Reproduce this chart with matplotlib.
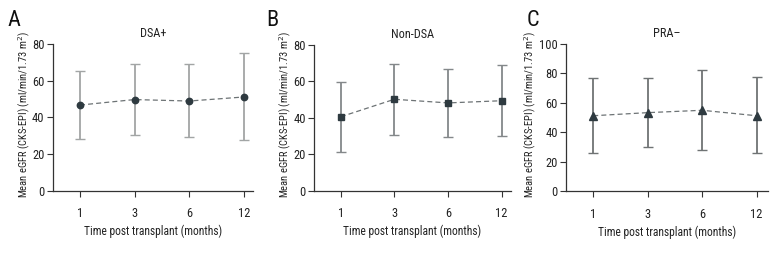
import matplotlib
matplotlib.use('Agg')
import matplotlib.pyplot as plt
from matplotlib import font_manager

# pick the narrowest sans we have
names = {f.name for f in font_manager.fontManager.ttflist}
fam = 'DejaVu Sans'
for cand in ['Roboto Condensed', 'Liberation Sans Narrow', 'Roboto', 'Liberation Sans']:
    if cand in names:
        fam = cand
        break
plt.rcParams['font.family'] = [fam, 'DejaVu Sans']

# Data
months = ['1', '3', '6', '12']

dsa_mean = [46.7, 49.7, 48.9, 51.1]
dsa_low = [28.4, 30.2, 29.3, 27.5]
dsa_high = [65.1, 69.0, 69.0, 74.9]

nondsa_mean = [40.6, 50.2, 48.2, 49.4]
nondsa_low = [21.1, 30.4, 29.5, 29.9]
nondsa_high = [59.9, 69.7, 66.7, 69.0]

pra_mean = [51.3, 53.4, 55.0, 51.3]
pra_low = [26.0, 29.9, 28.2, 26.0]
pra_high = [77.1, 77.1, 82.1, 77.4]

W, H = 780, 264
fig = plt.figure(figsize=(W / 100, H / 100), dpi=100)

panels = [
    # letter, title, mean, low, high, marker, ymax, ebar colour, axes box (px), letter x, ylabel offset
    ('A', 'DSA+', dsa_mean, dsa_low, dsa_high, 'o', 80, '#a2a5a5', (52.7, 44, 253, 190.7), 7, 21),
    ('B', 'Non-DSA', nondsa_mean, nondsa_low, nondsa_high, 's', 80, '#84888a', (314, 45, 510.7, 190.7), 266, 21),
    ('C', 'PRA\u2013', pra_mean, pra_low, pra_high, '^', 100, '#6f7374', (566, 44, 768, 191.3), 527, 28),
]

ylabel = 'Mean eGFR (CKS-EPI) (ml/min/1.73 m$^2$)'
mk_color = '#2e3a40'
txt = '#222222'

for letter, title, mean, low, high, mk, ymax, ecol, box, lx, yoff in panels:
    x0, y0, x1, y1 = box
    w, h = x1 - x0, y1 - y0
    ax = fig.add_axes([x0 / W, 1 - y1 / H, w / W, h / H])
    xs = range(len(months))
    yerr = [[m - l for m, l in zip(mean, low)], [h_ - m for m, h_ in zip(mean, high)]]
    ax.errorbar(xs, mean, yerr=yerr, fmt='none', ecolor=ecol, elinewidth=1.3,
                capsize=3.5, capthick=1.0, zorder=2)
    ax.plot(xs, mean, linestyle=(0, (4, 2.5)), color='#6d7375', linewidth=0.9, zorder=3)
    ax.plot(xs, mean, linestyle='none', marker=mk,
            markersize=5.2 if mk == '^' else 4.6, color=mk_color, zorder=4)
    ax.set_xlim(-0.5, 3.17 if letter != 'C' else 3.21)
    ax.set_ylim(0, ymax)
    ax.set_yticks(range(0, ymax + 1, 20))
    ax.set_xticks(list(xs))
    ax.set_xticklabels(months)
    for s in ('top', 'right'):
        ax.spines[s].set_visible(False)
    for s in ('left', 'bottom'):
        ax.spines[s].set_color('#333333')
        ax.spines[s].set_linewidth(0.9)
    ax.tick_params(direction='out', length=4, width=0.8, color='#333333',
                   labelsize=9, pad=2, labelcolor=txt)
    ax.tick_params(axis='x', pad=8)
    ax.set_xlabel('Time post transplant (months)', fontsize=8.3, color=txt, labelpad=3)
    ax.set_ylabel(ylabel, fontsize=7.6, color=txt)
    ax.yaxis.set_label_coords(-yoff / w, (y1 - 114) / h)
    ax.set_title(title, fontsize=8.8, color=txt, pad=5)
    fig.text(lx / W, 1 - 21 / H, letter, fontsize=16, color='#111111',
             ha='left', va='center')

fig.savefig('out.png', dpi=100)
